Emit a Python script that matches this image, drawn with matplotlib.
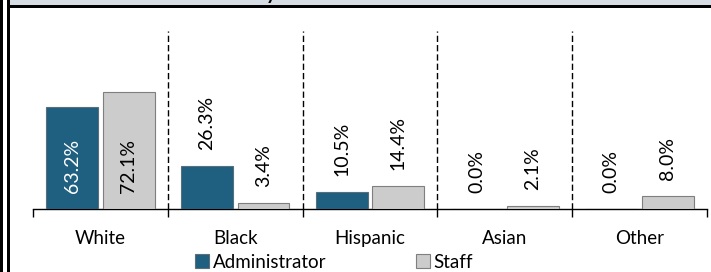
import numpy as np
import matplotlib
matplotlib.use("Agg")
import matplotlib.pyplot as plt
from matplotlib.patches import Rectangle

categories = ["White", "Black", "Hispanic", "Asian", "Other"]
administrator = [63.2, 26.3, 10.5, 0.0, 0.0]
staff = [72.1, 3.4, 14.4, 2.1, 8.0]
series_names = ["Administrator", "Staff"]

ADMIN_COLOR = "#1F5F7F"
STAFF_COLOR = "#CCCCCC"
FONT = ["Lato", "DejaVu Sans"]

plt.rcParams["font.family"] = FONT

W, H = 711, 272
fig = plt.figure(figsize=(W / 100, H / 100), dpi=100)

# frame decorations (page fragment)
fig.patches.append(Rectangle((10 / W, 1 - 5 / H), 1, 5 / H, transform=fig.transFigure,
                             facecolor="#D6DCE4", edgecolor="none", zorder=0))
fig.patches.append(Rectangle((7 / W, 1 - 8 / H), 1, 3 / H, transform=fig.transFigure,
                             facecolor="black", edgecolor="none", zorder=1))
fig.patches.append(Rectangle((0, 0), 3 / W, 1, transform=fig.transFigure,
                             facecolor="black", edgecolor="none", zorder=1))
fig.patches.append(Rectangle((7 / W, 0), 3 / W, 1, transform=fig.transFigure,
                             facecolor="black", edgecolor="none", zorder=1))
fig.text(271.5 / W, 1.0, "y", ha="center", va="baseline", fontsize=14,
         fontweight="bold", color="black", zorder=2)

ax = fig.add_axes([33 / W, 1 - 209 / H, (707 - 33) / W, (209 - 31) / H])
x = np.arange(len(categories))
off, bw = 0.21, 0.385
ax.bar(x - off, administrator, bw, color=ADMIN_COLOR, edgecolor="#5a6f7c", linewidth=0.8, zorder=3)
ax.bar(x + off, staff, bw, color=STAFF_COLOR, edgecolor="#7F7F7F", linewidth=0.8, zorder=3)

ax.set_xlim(-0.5, len(categories) - 0.5)
ax.set_ylim(0, 110)

pad = 9.9
for i in range(len(categories)):
    for v, dx, inside_color in ((administrator[i], -off, "white"), (staff[i], off, "black")):
        if v > 40:
            y, c = pad, inside_color
        else:
            y, c = v + pad, "black"
        ax.text(x[i] + dx, y, f"{v:.1f}%", rotation=90, ha="center", va="bottom",
                fontsize=14, color=c, zorder=4)

for b in np.arange(0.5, len(categories) - 0.5, 1.0):
    ax.axvline(b, color="black", lw=1.0, ls=(0, (4.5, 2.2)), zorder=2)

for s in ("top", "right", "left"):
    ax.spines[s].set_visible(False)
ax.spines["bottom"].set_linewidth(1.0)
ax.set_yticks([])
ax.set_xticks(x)
ax.set_xticklabels(categories, fontsize=13.5)
ax.tick_params(axis="x", which="major", length=0, pad=15)
ax.set_xticks(np.arange(-0.5, len(categories), 1.0), minor=True)
ax.tick_params(axis="x", which="minor", length=6, width=1.0, direction="out")

handles = [Rectangle((0, 0), 1, 1, facecolor=ADMIN_COLOR, edgecolor="#5a6f7c", lw=0.8),
           Rectangle((0, 0), 1, 1, facecolor=STAFF_COLOR, edgecolor="#7F7F7F", lw=0.8)]
fig.legend(handles, series_names, loc="center", bbox_to_anchor=(334 / W, 1 - 262 / H),
           ncol=2, frameon=False, fontsize=13.5, handlelength=0.75, handleheight=0.75,
           handletextpad=0.2, columnspacing=4.8, borderpad=0, borderaxespad=0)

fig.savefig("out.png", dpi=100)
